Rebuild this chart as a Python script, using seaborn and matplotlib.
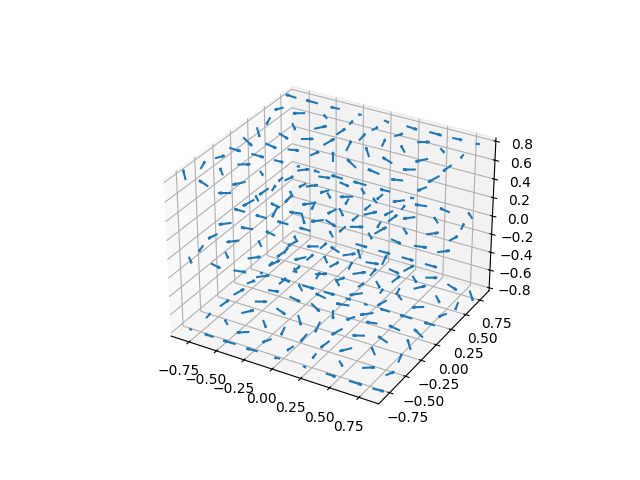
# 3D quiver plot, arrows on a 9 x 9 x 3 grid
import numpy as np
import seaborn as sns
import matplotlib.pyplot as plt

# grid positions
x_vals = [-0.8, -0.6, -0.4, -0.2, 0.0, 0.2, 0.4, 0.6, 0.8]
y_vals = [-0.8, -0.6, -0.4, -0.2, 0.0, 0.2, 0.4, 0.6, 0.8]
z_vals = [-0.8, 0.0, 0.8]

# arrow directions, one row per y value, one column per x value
# top and bottom layers share u and v
u_outer = [[-.385, -.622, -.622, -.385, 0, .385, .622, .622, .385],
           [-.147, -.238, -.238, -.147, 0, .147, .238, .238, .147],
           [.147, .238, .238, .147, 0, -.147, -.238, -.238, -.147],
           [.385, .622, .622, .385, 0, -.385, -.622, -.622, -.385],
           [.476, .769, .769, .476, 0, -.476, -.769, -.769, -.476],
           [.385, .622, .622, .385, 0, -.385, -.622, -.622, -.385],
           [.147, .238, .238, .147, 0, -.147, -.238, -.238, -.147],
           [-.147, -.238, -.238, -.147, 0, .147, .238, .238, .147],
           [-.385, -.622, -.622, -.385, 0, .385, .622, .622, .385]]
v_outer = [[.385, .147, -.147, -.385, -.476, -.385, -.147, .147, .385],
           [.622, .238, -.238, -.622, -.769, -.622, -.238, .238, .622],
           [.622, .238, -.238, -.622, -.769, -.622, -.238, .238, .622],
           [.385, .147, -.147, -.385, -.476, -.385, -.147, .147, .385],
           [0, 0, 0, 0, 0, 0, 0, 0, 0],
           [-.385, -.147, .147, .385, .476, .385, .147, -.147, -.385],
           [-.622, -.238, .238, .622, .769, .622, .238, -.238, -.622],
           [-.622, -.238, .238, .622, .769, .622, .238, -.238, -.622],
           [-.385, -.147, .147, .385, .476, .385, .147, -.147, -.385]]
w_top = [[.314, .12, -.12, -.314, -.388, -.314, -.12, .12, .314],
         [.12, .046, -.046, -.12, -.148, -.12, -.046, .046, .12],
         [-.12, -.046, .046, .12, .148, .12, .046, -.046, -.12],
         [-.314, -.12, .12, .314, .388, .314, .12, -.12, -.314],
         [-.388, -.148, .148, .388, .48, .388, .148, -.148, -.388],
         [-.314, -.12, .12, .314, .388, .314, .12, -.12, -.314],
         [-.12, -.046, .046, .12, .148, .12, .046, -.046, -.12],
         [.12, .046, -.046, -.12, -.148, -.12, -.046, .046, .12],
         [.314, .12, -.12, -.314, -.388, -.314, -.12, .12, .314]]

# middle layer, arrows stay flat so there is no w table
u_mid = [[.476, .769, .769, .476, 0, -.476, -.769, -.769, -.476],
         [.182, .294, .294, .182, 0, -.182, -.294, -.294, -.182],
         [-.182, -.294, -.294, -.182, 0, .182, .294, .294, .182],
         [-.476, -.769, -.769, -.476, 0, .476, .769, .769, .476],
         [-.588, -.951, -.951, -.588, -.001, .588, .951, .951, .588],
         [-.476, -.769, -.769, -.476, 0, .476, .769, .769, .476],
         [-.182, -.294, -.294, -.182, 0, .182, .294, .294, .182],
         [.182, .294, .294, .182, 0, -.182, -.294, -.294, -.182],
         [.476, .769, .769, .476, 0, -.476, -.769, -.769, -.476]]
v_mid = [[-.476, -.182, .182, .476, .588, .476, .182, -.182, -.476],
         [-.769, -.294, .294, .769, .951, .769, .294, -.294, -.769],
         [-.769, -.294, .294, .769, .951, .769, .294, -.294, -.769],
         [-.476, -.182, .182, .476, .588, .476, .182, -.182, -.476],
         [0, 0, 0, 0, .001, 0, 0, 0, 0],
         [.476, .182, -.182, -.476, -.588, -.476, -.182, .182, .476],
         [.769, .294, -.294, -.769, -.951, -.769, -.294, .294, .769],
         [.769, .294, -.294, -.769, -.951, -.769, -.294, .294, .769],
         [.476, .182, -.182, -.476, -.588, -.476, -.182, .182, .476]]

x, y, z = np.meshgrid(x_vals, y_vals, z_vals)

# stack the layers bottom to top
u = np.stack([u_outer, u_mid, u_outer], axis=2)
v = np.stack([v_outer, v_mid, v_outer], axis=2)
w = np.stack([-np.array(w_top), np.zeros((9, 9)), w_top], axis=2)

color = sns.color_palette("tab10")[0]

ax = plt.figure(figsize=(6.4, 4.8), dpi=100).add_subplot(projection='3d')
ax.quiver(x, y, z, u, v, w, length=0.1, normalize=True, color=color)

plt.savefig('out.png', dpi=100)
